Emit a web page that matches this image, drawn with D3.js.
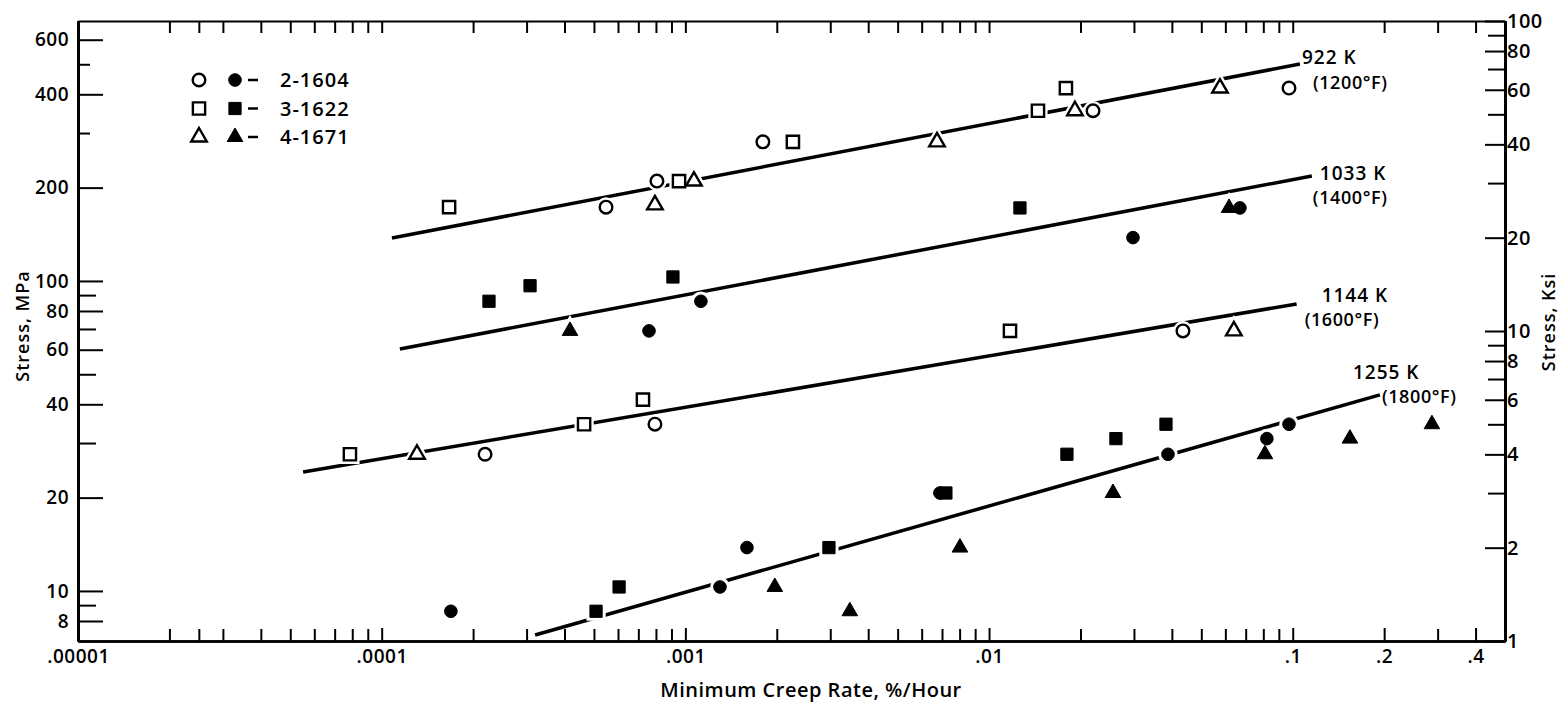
<!DOCTYPE html>
<html>
<head>
<meta charset="utf-8">
<script src="https://cdn.jsdelivr.net/npm/d3@7"></script>
<style>
  body { margin: 0; background: #fff; }
  svg text { font-family: "Open Sans", sans-serif; font-weight: 600; fill: #000; }
</style>
</head>
<body>
<div id="chart"></div>
<script>
// ---- data (creep rate %/h, stress MPa) ----
const xTickValues = [1e-5, 1e-4, 1e-3, 1e-2, 0.1, 0.2, 0.4];
const xTickLabels = [".00001", ".0001", ".001", ".01", ".1", ".2", ".4"];
const xExtraTicks = [2.5e-5];
const yLeftTicks = [600, 400, 200, 100, 80, 60, 40, 20, 10, 8];
const yLeftMinor = [90, 70, 50, 30, 9];
const yLeftShort = [500, 300];
const yRightTicks = [100, 80, 60, 40, 20, 10, 8, 6, 4, 2, 1];
const yRightMinor = [90, 70, 50, 30, 9, 7, 5, 3];

const specimens = ["2-1604", "3-1622", "4-1671"];

// open symbols: 922 K and 1144 K
const circleOpen = [[5.48e-4, 173], [8.06e-4, 210], [1.80e-3, 281], [0.0220, 354], [0.0972, 419],
  [2.19e-4, 27.6], [7.94e-4, 34.5], [0.0435, 69]];
const squareOpen = [[1.667e-4, 173], [9.53e-4, 210], [2.26e-3, 281], [0.01449, 354], [0.01791, 419],
  [7.86e-5, 27.6], [4.64e-4, 34.5], [7.25e-4, 41.4], [0.01172, 69]];
const triangleOpen = [[7.94e-4, 176], [1.067e-3, 210], [6.74e-3, 281], [0.01918, 354], [0.0576, 419],
  [1.307e-4, 27.6], [0.064, 69]];

// filled symbols: 1033 K and 1255 K
const circleFilled = [[7.59e-4, 69], [1.125e-3, 86], [0.02978, 138], [0.067, 172],
  [1.69e-4, 8.6], [1.30e-3, 10.3], [1.595e-3, 13.8], [6.89e-3, 20.7], [0.03883, 27.6], [0.0822, 31], [0.0972, 34.5]];
const squareFilled = [[2.256e-4, 86], [3.08e-4, 96.5], [9.10e-4, 103], [0.01264, 172],
  [5.08e-4, 8.6], [6.05e-4, 10.3], [2.97e-3, 13.8], [7.21e-3, 20.7], [0.01805, 27.6], [0.02617, 31], [0.03825, 34.5]];
const triangleFilled = [[4.17e-4, 69], [0.0617, 172],
  [1.97e-3, 10.3], [3.48e-3, 8.6], [8.02e-3, 13.8], [0.02559, 20.7], [0.081, 27.6], [0.1543, 31], [0.2873, 34.5]];

// fitted lines per temperature
const fitKelvin = ["922 K", "1033 K", "1144 K", "1255 K"];
const fitFahrenheit = ["(1200°F)", "(1400°F)", "(1600°F)", "(1800°F)"];
const fitStart = [[1.081e-4, 137.6], [1.148e-4, 60.3], [5.51e-5, 24.2], [3.2e-4, 7.21]];
const fitEnd = [[0.1056, 501], [0.1156, 218], [0.103, 84.3], [0.1937, 42.9]];

// ---- layout ----
const W = 1566, H = 705;
const svg = d3.select("#chart").append("svg").attr("width", W).attr("height", H);

const x = d3.scaleLog().domain([1e-5, 0.5]).range([78, 1505]);
const y = d3.scaleLog().domain([6.895, 689.5]).range([641, 21]);   // MPa
const yKsi = d3.scaleLog().domain([1, 100]).range([641, 21]);      // ksi

// minor x ticks (2..9 per decade)
const xMinor = x.ticks().filter(v => xTickValues.indexOf(v) < 0).concat(xExtraTicks);

function styleAxis(g, width, size) {
  g.selectAll("path.domain").attr("stroke", "#000").attr("stroke-width", width);
  g.selectAll(".tick line").attr("stroke", "#000").attr("stroke-width", 2);
  g.selectAll(".tick text").style("font-size", size + "px").style("letter-spacing", "0.5px");
}

// bottom axis
svg.append("g").attr("transform", "translate(0,641)")
  .call(d3.axisBottom(x).tickValues(xTickValues).tickSize(-13).tickSizeOuter(0).tickPadding(9)
    .tickFormat((d, i) => xTickLabels[i]))
  .call(g => styleAxis(g, 2.5, 19));
svg.append("g").attr("transform", "translate(0,641)")
  .call(d3.axisBottom(x).tickValues(xMinor).tickSize(-12).tickSizeOuter(0).tickFormat(""))
  .call(g => styleAxis(g, 2.5, 19));

// top axis
svg.append("g").attr("transform", "translate(0,21)")
  .call(d3.axisTop(x).tickValues(xMinor.concat(xTickValues)).tickSize(-12).tickSizeOuter(0).tickFormat(""))
  .call(g => styleAxis(g, 2, 19));

// left axis
svg.append("g").attr("transform", "translate(78,0)")
  .call(d3.axisLeft(y).tickValues(yLeftTicks).tickSize(-25).tickSizeOuter(0).tickPadding(9).tickFormat(d3.format("d")))
  .call(g => styleAxis(g, 2.5, 19));
svg.append("g").attr("transform", "translate(78,0)")
  .call(d3.axisLeft(y).tickValues(yLeftMinor).tickSize(-18).tickSizeOuter(0).tickFormat(""))
  .call(g => styleAxis(g, 2.5, 19));
svg.append("g").attr("transform", "translate(78,0)")
  .call(d3.axisLeft(y).tickValues(yLeftShort).tickSize(-12).tickSizeOuter(0).tickFormat(""))
  .call(g => styleAxis(g, 2.5, 19));

// right axis (ksi)
svg.append("g").attr("transform", "translate(1505,0)")
  .call(d3.axisRight(yKsi).tickValues(yRightTicks).tickSize(-20).tickSizeOuter(0).tickPadding(2).tickFormat(d3.format("d")))
  .call(g => styleAxis(g, 3, 20));
svg.append("g").attr("transform", "translate(1505,0)")
  .call(d3.axisRight(yKsi).tickValues(yRightMinor).tickSize(-17).tickSizeOuter(0).tickFormat(""))
  .call(g => styleAxis(g, 3, 20));

// axis titles
svg.append("text").attr("transform", "translate(29,326) rotate(-90)")
  .attr("text-anchor", "middle").style("font-size", "18px").style("letter-spacing", "1px").text("Stress, MPa");
svg.append("text").attr("transform", "translate(1555,322) rotate(-90)")
  .attr("text-anchor", "middle").style("font-size", "18px").style("letter-spacing", "1px").text("Stress, Ksi");
svg.append("text").attr("x", 811).attr("y", 697)
  .attr("text-anchor", "middle").style("font-size", "20px").style("letter-spacing", "0.5px")
  .text("Minimum Creep Rate, %/Hour");

// fitted lines
const line = d3.line().x(d => x(d[0])).y(d => y(d[1]));
fitStart.forEach((s, i) => {
  svg.append("path").datum([s, fitEnd[i]])
    .attr("d", line).attr("fill", "none").attr("stroke", "#000").attr("stroke-width", 3.5);
});

// temperature labels, offsets from the line ends
const kOffset = [[2, -7], [8, -3], [25, -9], [-27, -23]];
const fOffset = [[13, 19], [1, 22], [8, 16], [2, 2]];
fitEnd.forEach((e, i) => {
  const ex = x(e[0]), ey = y(e[1]);
  svg.append("text").attr("x", ex + kOffset[i][0]).attr("y", ey + kOffset[i][1])
    .attr("dy", "0.35em").style("font-size", "19px").style("letter-spacing", "1px").text(fitKelvin[i]);
  svg.append("text").attr("x", ex + fOffset[i][0]).attr("y", ey + fOffset[i][1])
    .attr("dy", "0.35em").style("font-size", "18px").style("letter-spacing", "0.6px").text(fitFahrenheit[i]);
});

// markers
const sym = {
  circle: d3.symbol(d3.symbolCircle, 125),
  square: d3.symbol(d3.symbolSquare, 150),
  triangle: d3.symbol(d3.symbolTriangle, 105)
};
const groups = [
  { data: circleOpen, shape: "circle", filled: false },
  { data: squareOpen, shape: "square", filled: false },
  { data: triangleOpen, shape: "triangle", filled: false },
  { data: circleFilled, shape: "circle", filled: true },
  { data: squareFilled, shape: "square", filled: true },
  { data: triangleFilled, shape: "triangle", filled: true }
];

// white halo first so the fit lines break around the symbols
groups.forEach(g => {
  svg.append("g").selectAll("path").data(g.data).enter().append("path")
    .attr("transform", d => `translate(${x(d[0])},${y(d[1])})`)
    .attr("d", sym[g.shape])
    .attr("fill", "#fff").attr("stroke", "#fff").attr("stroke-width", 7);
});
groups.forEach(g => {
  svg.append("g").selectAll("path").data(g.data).enter().append("path")
    .attr("transform", d => `translate(${x(d[0])},${y(d[1])})`)
    .attr("d", sym[g.shape])
    .attr("fill", g.filled ? "#000" : "#fff")
    .attr("stroke", "#000").attr("stroke-width", g.filled ? 1 : 2.4);
});

// legend
const legendShapes = ["circle", "square", "triangle"];
specimens.forEach((name, i) => {
  const ly = 80 + i * 28.5;
  svg.append("path").attr("transform", `translate(199,${ly})`).attr("d", sym[legendShapes[i]])
    .attr("fill", "#fff").attr("stroke", "#000").attr("stroke-width", 2.4);
  svg.append("path").attr("transform", `translate(235,${ly})`).attr("d", sym[legendShapes[i]])
    .attr("fill", "#000").attr("stroke", "#000").attr("stroke-width", 1);
  svg.append("line").attr("x1", 248).attr("x2", 258).attr("y1", ly).attr("y2", ly)
    .attr("stroke", "#000").attr("stroke-width", 2.5);
  svg.append("text").attr("x", 280).attr("y", ly).attr("dy", "0.35em")
    .style("font-size", "20px").style("letter-spacing", "1px").text(name);
});
</script>
</body>
</html>
